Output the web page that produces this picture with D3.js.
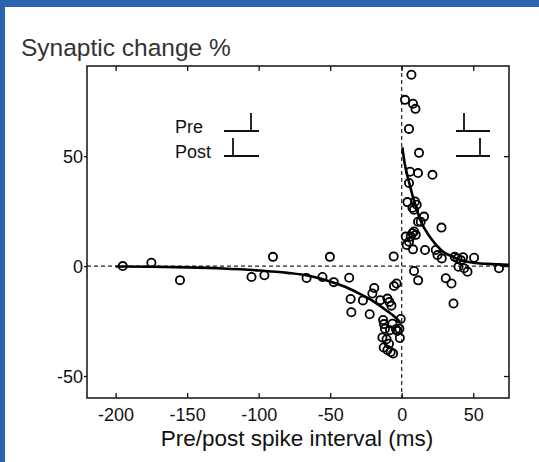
<!DOCTYPE html>
<html lang="en">
  <head>
    <meta charset="UTF-8" />
    <title>Synaptic change</title>
    <style>
      body { margin: 0; background: #fff; }
      text { font-family: "Liberation Sans", Arial, sans-serif; }
    </style>
  </head>
  <body>
    <script src="https://cdn.jsdelivr.net/npm/d3@7/dist/d3.min.js"></script>
    <script>

    // spike interval (ms) of each recorded pair
    var intervals = [-195, -175, -155, -105, -96, -90, -66.5, -55.4, -50.2, -47.5,
                     -36.7, -35.7, -35.2, -27.1, -22.4, -19.2, -20.5, -15, -10, -8.6,
                     -7.2, -5.4, -3.6, -5.6, -13, -12.4, -11.7, -6.5, -0.7, -1.6,
                     -4, -3, -8.2, -1.3, -13.5, -10.6, -8.9, -12.6, -10, -7.7, -6,
                     6.8, 2.3, 7.9, 9.6, 5.1, 12.1, 5.8, 11.4, 21.5, 5.1, 4, 9.3, 10.5,
                     8.6, 7.5, 15.6, 11.4, 13.3, 27.8, 8.6, 7.5, 9.8, 6.3, 2.8, 5.1, 3.5,
                     7.9, 16.3, 23.8, 25, 28, 37.1, 39, 41.3, 42.9, 39.7, 43.6, 46, 50.6,
                     68, 8.6, 11.5, 30.8, 34.8, 36.2];
    // synaptic change (%) of each pair
    var changes = [0, 1.5, -6.4, -5, -4.2, 4.2, -5.4, -5, 4.2, -7.3,
                   -5.3, -15, -21, -15.6, -21.9, -10, -12.5, -15.5, -14.8, -16.3,
                   -18, -9.1, -7.9, 4.4, -24.5, -26.4, -28.5, -26.2, -24.1, -28.5,
                   -28.7, -29.5, -29.2, -32.7, -32.5, -33.3, -35.3, -37, -38.2, -39.1, -39.8,
                   87, 75.6, 73.8, 71.5, 62.4, 51.5, 42.9, 42.3, 41.5, 37.8, 29.1, 29.4, 27.9,
                   25.6, 26.5, 22.5, 20.2, 20.2, 17.5, 15.7, 14.9, 14.2, 13.4, 13.4, 11.1, 9.6,
                   7.6, 7.3, 7.3, 5, 3.5, 4.2, 3.5, 2.7, 4, -0.3, -1, -2.6, 3.8,
                   -1, -2.2, -6.5, -5.5, -7.9, -17];

    // fitted curves
    var ltdX = [-200, -175, -150, -125, -100, -80, -65, -50, -40, -30, -20, -10, -5, -1];
    var ltdY = [-0.2, -0.3, -0.6, -1.1, -2, -3.1, -4.4, -7, -9.3, -12.4, -15.9, -20.5, -23, -25.5];
    var ltpX = [0.5, 2, 4, 6, 8, 10, 13, 16, 20, 25, 30, 35, 40, 50, 60, 75];
    var ltpY = [54, 47, 41, 36, 31, 27, 21, 17, 13, 9, 6, 4.5, 3, 1.5, 1, 0.6];

    var xTicks = [-200, -150, -100, -50, 0, 50];
    var yTicks = [-50, 0, 50];

    var W = 539, H = 462;
    var pLeft = 87, pRight = 509, pTop = 66, pBottom = 398;

    var svg = d3.select("body").append("svg")
                .attr("width", W)
                .attr("height", H);

    // blue frame of the slide
    svg.append("rect").attr("x", 0).attr("y", 0).attr("width", W).attr("height", 7).attr("fill", "#2a64b0");
    svg.append("rect").attr("x", 0).attr("y", 0).attr("width", 5).attr("height", H).attr("fill", "#2a64b0");

    var xScale = d3.scaleLinear().domain([-220, 75]).range([pLeft, pRight]);
    var yScale = d3.scaleLinear().domain([-60, 91]).range([pBottom, pTop]);
    var plain = function(d) { return String(d); };

    // zero lines
    svg.append("line")
       .attr("x1", pLeft).attr("x2", pRight)
       .attr("y1", yScale(0)).attr("y2", yScale(0))
       .attr("stroke", "#222").attr("stroke-width", 1.2)
       .attr("stroke-dasharray", "4,3");
    svg.append("line")
       .attr("x1", xScale(0)).attr("x2", xScale(0))
       .attr("y1", pTop).attr("y2", pBottom)
       .attr("stroke", "#222").attr("stroke-width", 1.2)
       .attr("stroke-dasharray", "4,3");

    // axes
    var xAxis = d3.axisBottom(xScale).tickValues(xTicks).tickSizeInner(-5).tickSizeOuter(0).tickPadding(10).tickFormat(plain);
    var gx = svg.append("g").attr("transform", "translate(0," + pBottom + ")").call(xAxis);
    var xTop = d3.axisTop(xScale).tickValues(xTicks).tickSizeInner(-5).tickSizeOuter(0).tickFormat("");
    var gxt = svg.append("g").attr("transform", "translate(0," + pTop + ")").call(xTop);
    var yAxis = d3.axisLeft(yScale).tickValues(yTicks).tickSizeInner(3).tickSizeOuter(0).tickPadding(1).tickFormat(plain);
    var gy = svg.append("g").attr("transform", "translate(" + pLeft + ",0)").call(yAxis);
    var yRight = d3.axisRight(yScale).tickValues(yTicks).tickSizeInner(-5).tickSizeOuter(0).tickFormat("");
    var gyr = svg.append("g").attr("transform", "translate(" + pRight + ",0)").call(yRight);

    [gx, gxt, gy, gyr].forEach(function(g) {
      g.select(".domain").remove();
      g.selectAll("line").attr("stroke", "#111").attr("stroke-width", 1.3);
      g.selectAll("text").attr("fill", "#111").style("font-size", "18px")
       .style("font-family", "'Liberation Sans', Arial, sans-serif");
    });
    gy.selectAll("text").attr("dy", "0.36em");

    svg.append("rect")
       .attr("x", pLeft).attr("y", pTop)
       .attr("width", pRight - pLeft).attr("height", pBottom - pTop)
       .attr("fill", "none").attr("stroke", "#111").attr("stroke-width", 1.5);

    // fitted curves
    var line = d3.line()
      .x(function(d) { return xScale(d[0]); })
      .y(function(d) { return yScale(d[1]); })
      .curve(d3.curveMonotoneX);

    svg.append("path")
       .datum(ltdX.map(function(x, i) { return [x, ltdY[i]]; }))
       .attr("d", line).attr("fill", "none").attr("stroke", "#000").attr("stroke-width", 2.6);
    svg.append("path")
       .datum(ltpX.map(function(x, i) { return [x, ltpY[i]]; }))
       .attr("d", line).attr("fill", "none").attr("stroke", "#000").attr("stroke-width", 2.6);

    // data points
    svg.selectAll("circle.pt")
       .data(intervals)
       .enter().append("circle")
       .attr("class", "pt")
       .attr("cx", function(d) { return xScale(d); })
       .attr("cy", function(d, i) { return yScale(changes[i]); })
       .attr("r", 4.1)
       .attr("fill", "none")
       .attr("stroke", "#000")
       .attr("stroke-width", 1.8);

    // spike timing glyphs
    var glyphs = [
      { x1: 224, x2: 259, y: 131, vx: 251 },
      { x1: 224, x2: 259, y: 156, vx: 233 },
      { x1: 456, x2: 490, y: 131, vx: 464 },
      { x1: 456, x2: 490, y: 156, vx: 480 }
    ];
    glyphs.forEach(function(g) {
      svg.append("line").attr("x1", g.x1).attr("x2", g.x2).attr("y1", g.y).attr("y2", g.y)
         .attr("stroke", "#111").attr("stroke-width", 1.8);
      svg.append("line").attr("x1", g.vx).attr("x2", g.vx).attr("y1", g.y - 18).attr("y2", g.y)
         .attr("stroke", "#111").attr("stroke-width", 1.8);
    });
    svg.append("text").attr("x", 175).attr("y", 133).text("Pre").style("font-size", "18px").attr("fill", "#111");
    svg.append("text").attr("x", 175).attr("y", 158).text("Post").style("font-size", "18px").attr("fill", "#111");

    // titles
    svg.append("text")
       .attr("x", 21).attr("y", 56)
       .text("Synaptic change %")
       .style("font-size", "24.5px")
       .attr("fill", "#333");
    svg.append("text")
       .attr("x", 297).attr("y", 446)
       .attr("text-anchor", "middle")
       .text("Pre/post spike interval (ms)")
       .style("font-size", "22.5px")
       .attr("fill", "#111");

    </script>
  </body>
</html>
